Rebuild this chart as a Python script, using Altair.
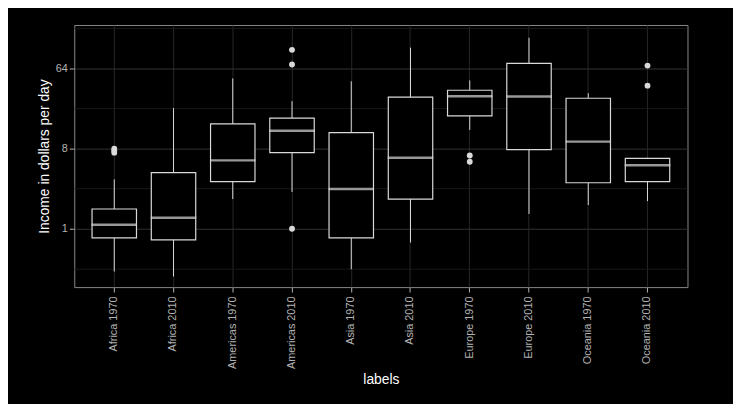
import altair as alt
import pandas as pd

# Box statistics (dollars per day, log2 scale)
labels = ["Africa 1970", "Africa 2010", "Americas 1970", "Americas 2010", "Asia 1970",
          "Asia 2010", "Europe 1970", "Europe 2010", "Oceania 1970", "Oceania 2010"]
lower = [0.33, 0.29, 2.16, 2.6, 0.35, 0.70, 13.0, 1.47, 1.85, 2.05]
q1 = [0.79, 0.75, 3.4, 7.2, 0.79, 2.16, 18.7, 7.8, 3.3, 3.4]
median = [1.11, 1.33, 5.9, 12.7, 2.8, 6.3, 31.2, 31.0, 9.6, 5.2]
q3 = [1.67, 4.3, 15.2, 17.7, 12.1, 30.4, 36.4, 73.0, 29.6, 6.2]
upper = [3.6, 22.9, 49.5, 27.4, 45.9, 110.0, 47.0, 142.0, 33.7, 6.3]
outlier_label = ["Africa 1970", "Africa 1970", "Africa 1970", "Americas 2010", "Americas 2010",
                 "Americas 2010", "Europe 1970", "Europe 1970", "Oceania 2010", "Oceania 2010"]
outlier_value = [8.0, 7.6, 7.2, 104.0, 71.0, 1.0, 6.7, 5.7, 69.0, 41.0]
major_ticks = [1, 8, 64]
minor_ticks = [0.35, 2.83, 22.6, 181.0]

BOX_LINE = "#d9d9d9"
GRID = "#333333"
TEXT = "#b3b3b3"

stats = pd.DataFrame({"labels": labels, "lower": lower, "q1": q1, "median": median,
                      "q3": q3, "upper": upper})
outliers = pd.DataFrame({"labels": outlier_label, "value": outlier_value})

y_scale = alt.Scale(type="log", base=2, domain=[0.22, 198], nice=False)
x_enc = alt.X("labels:N", sort=labels, title="labels",
              scale=alt.Scale(paddingInner=0.25, paddingOuter=0.3),
              axis=alt.Axis(labelAngle=270, labelColor=TEXT, labelFontSize=11,
                            titleColor="white", titleFontSize=14, titleFontWeight="normal",
                            tickColor=TEXT, domain=False, grid=True, gridColor="#262626",
                            labelPadding=4))

minor = alt.Chart(pd.DataFrame({"v": minor_ticks})).mark_rule(
    color="#1f1f1f", strokeWidth=0.8).encode(y=alt.Y("v:Q", scale=y_scale))

whisk_lo = alt.Chart(stats).mark_rule(color=BOX_LINE).encode(
    x=x_enc,
    y=alt.Y("lower:Q", scale=y_scale, title="Income in dollars per day",
            axis=alt.Axis(values=major_ticks, labelColor=TEXT, labelFontSize=11,
                          titleColor="white", titleFontSize=14, titleFontWeight="normal",
                          tickColor=TEXT, domain=False, gridColor=GRID)),
    y2="q1:Q")
whisk_hi = alt.Chart(stats).mark_rule(color=BOX_LINE).encode(
    x=alt.X("labels:N", sort=labels), y=alt.Y("q3:Q", scale=y_scale), y2="upper:Q")
box = alt.Chart(stats).mark_bar(fill="black", stroke=BOX_LINE, strokeWidth=1.2).encode(
    x=alt.X("labels:N", sort=labels), y=alt.Y("q1:Q", scale=y_scale), y2="q3:Q")
med = alt.Chart(stats).mark_tick(color=BOX_LINE, thickness=2.5, size=46).encode(
    x=alt.X("labels:N", sort=labels), y=alt.Y("median:Q", scale=y_scale))
pts = alt.Chart(outliers).mark_circle(color=BOX_LINE, size=35, opacity=1).encode(
    x=alt.X("labels:N", sort=labels), y=alt.Y("value:Q", scale=y_scale))

chart = (minor + whisk_lo + whisk_hi + box + med + pts).properties(
    width=620, height=265, background="black", autosize="none",
    padding={"left": 67, "top": 15, "right": 46, "bottom": 116},
).configure_view(stroke="#888888", fill="black").configure_axis(
    labelFont="Liberation Sans", titleFont="Liberation Sans")

chart.save("out.html", embed_options={"renderer": "svg", "actions": False})
